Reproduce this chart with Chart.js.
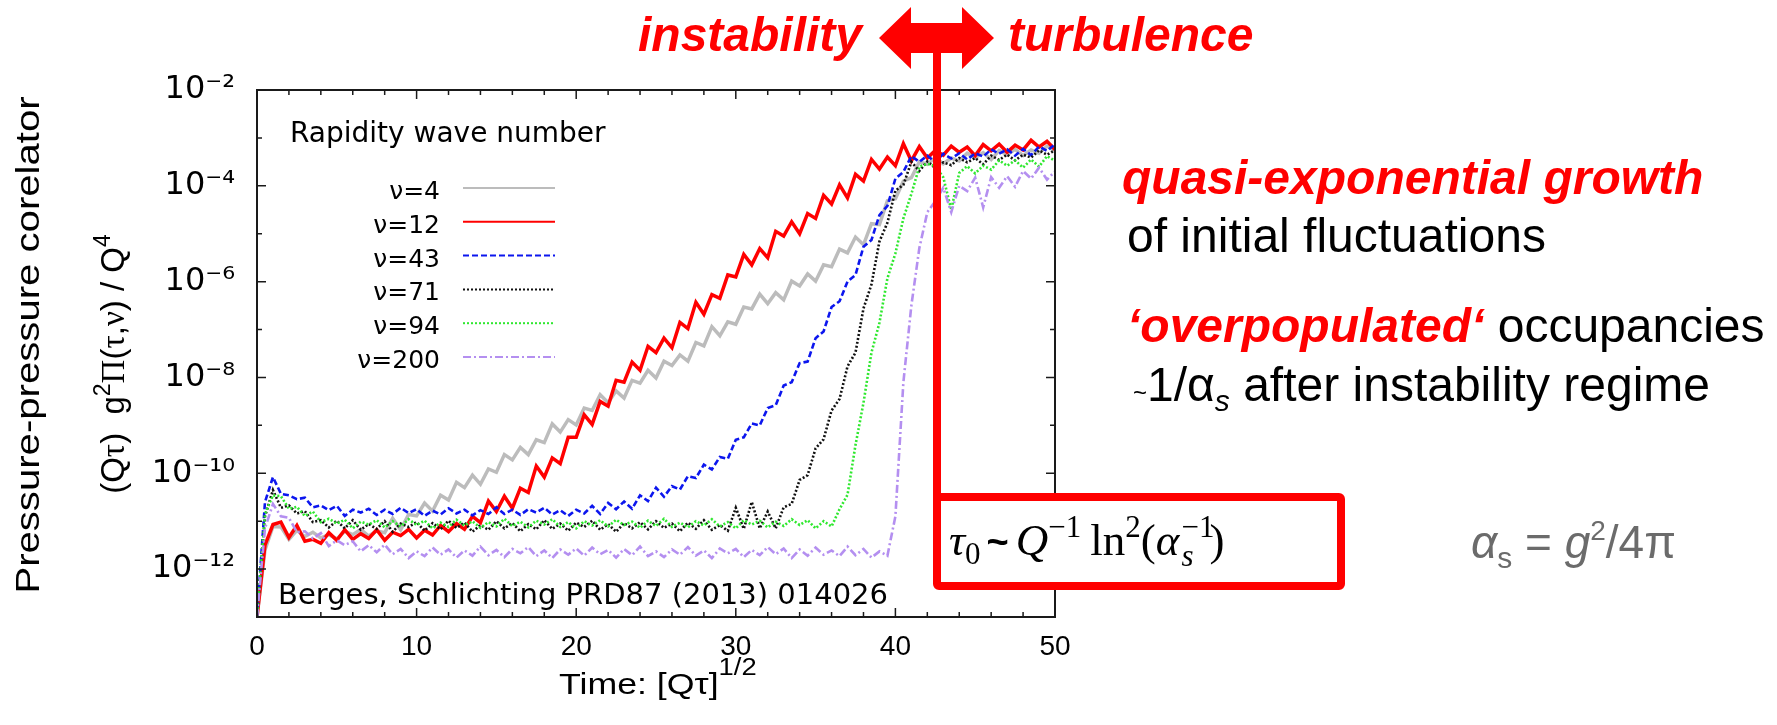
<!DOCTYPE html>
<html>
<head>
<meta charset="utf-8">
<title>Pressure-pressure correlator</title>
<script src="https://cdn.jsdelivr.net/npm/chart.js@4.4.1/dist/chart.umd.min.js"></script>
<style>
  html, body { margin:0; padding:0; background:#fff; }
  #stage { position:relative; width:1777px; height:725px; overflow:hidden; background:#fff; }
  #chart { position:absolute; left:0; top:0; }
  #shapes { position:absolute; left:0; top:0; }
  .txt { position:absolute; white-space:nowrap; line-height:1; font-family:"Liberation Sans", Arial, sans-serif; color:#000; }
  .red { color:#ff0000; font-weight:bold; font-style:italic; }
  .rot { transform-origin:center center; }
  .up { line-height:0; }
  .g { font-family:"Liberation Serif", "DejaVu Serif", serif; }
  .stk { display:inline-block; position:relative; width:30px; height:0; }
  .stk .u { position:absolute; left:2px; bottom:13px; font-size:31px; line-height:1; }
  .stk .d { position:absolute; left:2px; bottom:-16px; font-size:31px; line-height:1; }
</style>
</head>
<body>
<div id="stage">
  <canvas id="chart" width="1777" height="725"></canvas>
  <svg id="shapes" width="1777" height="725" xmlns="http://www.w3.org/2000/svg">
    <rect x="933" y="30" width="8" height="470" fill="#ff0000"/>
    <polygon points="879,38 911,7 911,23 962,23 962,7 994,38 962,69 962,53 911,53 911,69" fill="#ff0000"/>
    <rect x="937" y="497" width="404" height="89" rx="2" fill="#ffffff" stroke="#ff0000" stroke-width="8"/>
  </svg>

  <div class="txt red" style="left:638px; top:11px; font-size:48px;">instability</div>
  <div class="txt red" style="left:1008px; top:11px; font-size:48px;">turbulence</div>

  <div class="txt" style="left:1122px; top:154px; font-size:48px;"><span class="red">quasi-exponential growth</span></div>
  <div class="txt" style="left:1127px; top:212px; font-size:48px;">of initial fluctuations</div>
  <div class="txt" style="left:1127px; top:302px; font-size:48px;"><span class="red">‘overpopulated‘</span> occupancies</div>
  <div class="txt" style="left:1133px; top:361px; font-size:48px;"><span style="font-size:24px;">~</span>1/α<span class="up" style="font-size:30px; font-style:italic; vertical-align:-10px;">s</span> after instability regime</div>

  <div class="txt" style="left:949px; top:518px; font-size:45px; font-family:'Liberation Serif','DejaVu Serif',serif;"><i>τ</i><span class="up" style="font-size:31px; vertical-align:-9px;">0</span><b style="font-family:'Liberation Sans',Arial,sans-serif; font-size:38px; margin:0 7px 0 6px;">~</b><i>Q</i><span class="up" style="font-size:31px; vertical-align:18px;">−1</span><span style="margin-left:9px;">ln</span><span class="up" style="font-size:31px; vertical-align:18px;">2</span>(<i>α</i><span class="stk"><span class="u">−1</span><span class="d"><i>s</i></span></span>)</div>

  <div class="txt" style="left:1471px; top:519px; font-size:46px; color:#6b6b6b;"><i>α</i><span class="up" style="font-size:30px; vertical-align:-10px;">s</span> = <i>g</i><span class="up" style="font-size:28px; vertical-align:18px;">2</span>/4π</div>

  <div class="txt" style="left:559px; top:667px; font-size:30px; transform-origin:left center; transform:scaleX(1.19);">Time: [Qτ]<span class="up" style="font-size:23px; vertical-align:19px;">1/2</span></div>

  <div class="txt rot" style="left:27px; top:345px; font-size:34px; transform:translate(-50%,-50%) rotate(-90deg) scaleX(1.18);">Pressure-pressure corelator</div>
  <div class="txt rot" style="left:113px; top:364px; font-size:33px; transform:translate(-50%,-50%) rotate(-90deg);">(Q<span class="g">τ</span>)&nbsp;&nbsp;g<span class="up" style="font-size:23px; vertical-align:14px;">2</span><span class="g">Π</span>(<span class="g">τ</span>,<span class="g">ν</span>) / Q<span class="up" style="font-size:23px; vertical-align:14px;">4</span></div>

  <div class="txt" style="left:290px; top:119px; font-size:28px; font-family:'DejaVu Sans',sans-serif;">Rapidity wave number</div>
  <div class="txt" style="left:278px; top:580px; font-size:29px; font-family:'DejaVu Sans',sans-serif;">Berges, Schlichting PRD87 (2013) 014026</div>
</div>

<script>
// ---------------- data ----------------
const times = [0,0.5,1,1.5,2,2.5,3,3.5,4,4.5,5,5.5,6,6.5,7,7.5,8,8.5,9,9.5,10,10.5,11,11.5,12,12.5,13,13.5,14,14.5,15,15.5,16,16.5,17,17.5,18,18.5,19,19.5,20,20.5,21,21.5,22,22.5,23,23.5,24,24.5,25,25.5,26,26.5,27,27.5,28,28.5,29,29.5,30,30.5,31,31.5,32,32.5,33,33.5,34,34.5,35,35.5,36,36.5,37,37.5,38,38.5,39,39.5,40,40.5,41,41.5,42,42.5,43,43.5,44,44.5,45,45.5,46,46.5,47,47.5,48,48.5,49,49.5,50];

// log10 of (Q tau) g^2 Pi(tau,nu) / Q^4, one value per entry of `times`
const log10Nu4 = [-13.0,-11.6,-11.11,-11.12,-11.38,-11.19,-11.32,-11.23,-11.35,-11.28,
  -11.37,-11.21,-11.28,-11.17,-11.31,-11.2,-11.24,-10.94,-11.18,-10.86,
  -10.89,-10.62,-10.79,-10.46,-10.56,-10.19,-10.3,-10.04,-10.23,-9.91,
  -9.98,-9.61,-9.72,-9.46,-9.61,-9.3,-9.36,-8.97,-9.14,-8.88,
  -8.99,-8.64,-8.69,-8.36,-8.53,-8.28,-8.43,-8.06,-8.12,-7.85,
  -8.01,-7.66,-7.75,-7.53,-7.66,-7.27,-7.34,-6.94,-7.13,-6.84,
  -6.89,-6.53,-6.57,-6.26,-6.46,-6.23,-6.38,-5.99,-6.09,-5.84,
  -5.99,-5.65,-5.69,-5.32,-5.4,-5.07,-5.23,-4.79,-4.81,-4.31,
  -4.27,-3.9,-3.83,-3.5,-3.55,-3.41,-3.54,-3.42,-3.48,-3.32,
  -3.41,-3.31,-3.45,-3.26,-3.35,-3.24,-3.37,-3.25,-3.32,-3.17,
  -3.27];

const log10Nu12 = [-13.0,-11.5,-11.07,-11.02,-11.34,-11.09,-11.42,-11.38,-11.46,-11.24,
  -11.4,-11.18,-11.38,-11.26,-11.36,-11.18,-11.4,-11.23,-11.3,-11.17,
  -11.35,-11.19,-11.29,-11.09,-11.22,-11.05,-11.17,-10.9,-11.03,-10.58,
  -10.8,-10.48,-10.73,-10.31,-10.4,-9.85,-10.08,-9.68,-9.8,-9.25,
  -9.25,-8.78,-8.98,-8.5,-8.6,-8.06,-8.1,-7.68,-7.85,-7.35,
  -7.48,-7.18,-7.38,-6.85,-6.98,-6.43,-6.68,-6.27,-6.35,-5.86,
  -5.9,-5.43,-5.65,-5.31,-5.5,-4.95,-5.05,-4.75,-5.0,-4.58,
  -4.68,-4.2,-4.38,-3.98,-4.25,-3.76,-3.9,-3.45,-3.65,-3.4,
  -3.58,-3.12,-3.48,-3.18,-3.42,-3.26,-3.36,-3.17,-3.3,-3.19,
  -3.37,-3.14,-3.27,-3.13,-3.3,-3.15,-3.25,-3.05,-3.19,-3.07,
  -3.24];

const log10Nu43 = [-13.0,-10.6,-10.08,-10.43,-10.46,-10.54,-10.51,-10.71,-10.67,-10.77,
  -10.68,-10.89,-10.76,-10.82,-10.74,-10.87,-10.76,-10.85,-10.72,-10.83,
  -10.75,-10.89,-10.78,-10.86,-10.73,-10.84,-10.76,-10.88,-10.77,-10.85,
  -10.71,-10.85,-10.76,-10.87,-10.75,-10.82,-10.72,-10.86,-10.77,-10.89,
  -10.76,-10.84,-10.68,-10.85,-10.62,-10.75,-10.59,-10.74,-10.46,-10.58,
  -10.3,-10.49,-10.27,-10.34,-10.06,-10.1,-9.82,-9.92,-9.66,-9.7,
  -9.3,-9.25,-8.96,-9.0,-8.64,-8.58,-8.17,-8.1,-7.7,-7.67,
  -7.18,-7.04,-6.53,-6.41,-6.0,-5.86,-5.27,-5.13,-4.61,-4.42,
  -3.85,-3.71,-3.38,-3.5,-3.37,-3.51,-3.33,-3.43,-3.32,-3.45,
  -3.32,-3.39,-3.24,-3.33,-3.24,-3.37,-3.23,-3.36,-3.18,-3.27,
  -3.13];

const log10Nu71 = [-13.0,-10.9,-10.35,-10.72,-10.67,-10.84,-10.79,-11.02,-10.98,-11.13,
  -10.99,-11.15,-10.98,-11.18,-11.06,-11.16,-11.0,-11.22,-11.05,-11.12,
  -11.02,-11.2,-11.04,-11.17,-10.99,-11.14,-11.03,-11.22,-11.08,-11.18,
  -11.0,-11.15,-11.04,-11.21,-11.06,-11.17,-10.98,-11.16,-11.05,-11.2,
  -11.03,-11.12,-10.99,-11.18,-11.06,-11.22,-11.04,-11.15,-11.02,-11.17,
  -11.0,-11.14,-11.05,-11.21,-11.03,-11.16,-10.98,-11.18,-11.08,-11.2,
  -10.72,-11.16,-10.6,-11.15,-10.8,-11.15,-10.71,-10.64,-10.14,-10.04,
  -9.48,-9.29,-8.69,-8.45,-7.77,-7.48,-6.56,-6.06,-5.16,-4.77,
  -4.1,-3.98,-3.5,-3.69,-3.49,-3.63,-3.51,-3.57,-3.42,-3.51,
  -3.42,-3.55,-3.37,-3.46,-3.35,-3.47,-3.35,-3.41,-3.26,-3.35,
  -3.26];

const log10Nu94 = [-13.0,-10.85,-10.46,-10.48,-10.74,-10.7,-10.89,-10.8,-11.02,-10.95,
  -11.05,-10.97,-11.15,-11.01,-11.07,-10.98,-11.13,-11.0,-11.11,-10.96,
  -11.08,-10.99,-11.15,-11.03,-11.12,-10.97,-11.09,-11.0,-11.14,-11.02,
  -11.11,-10.95,-11.1,-11.01,-11.13,-10.99,-11.07,-10.96,-11.12,-11.02,
  -11.15,-11.0,-11.09,-10.98,-11.11,-10.97,-11.08,-11.01,-11.14,-10.99,
  -11.1,-10.95,-11.12,-11.03,-11.13,-11.0,-11.09,-10.96,-11.11,-11.02,
  -11.15,-10.98,-11.07,-10.99,-11.13,-11.01,-11.1,-10.96,-11.08,-10.98,
  -11.15,-11.0,-11.11,-10.75,-10.45,-9.41,-8.53,-7.48,-6.86,-5.93,
  -5.41,-4.68,-4.17,-3.6,-3.54,-3.59,-3.82,-4.5,-3.73,-3.59,
  -3.74,-3.58,-3.66,-3.47,-3.58,-3.47,-3.62,-3.45,-3.6,-3.38,
  -3.48];

const log10Nu200 = [-13.0,-11.15,-10.64,-10.9,-10.93,-11.23,-11.21,-11.36,-11.25,-11.52,
  -11.4,-11.5,-11.42,-11.63,-11.5,-11.65,-11.49,-11.69,-11.58,-11.77,
  -11.63,-11.73,-11.55,-11.7,-11.59,-11.76,-11.61,-11.72,-11.53,-11.71,
  -11.6,-11.75,-11.58,-11.67,-11.54,-11.73,-11.61,-11.77,-11.59,-11.7,
  -11.57,-11.72,-11.55,-11.69,-11.6,-11.76,-11.58,-11.71,-11.53,-11.73,
  -11.63,-11.75,-11.59,-11.7,-11.54,-11.72,-11.61,-11.77,-11.57,-11.67,
  -11.58,-11.75,-11.6,-11.71,-11.54,-11.69,-11.57,-11.77,-11.59,-11.72,
  -11.55,-11.7,-11.61,-11.73,-11.53,-11.71,-11.58,-11.76,-11.63,-11.72,
  -10.9,-8.1,-6.5,-5.3,-4.55,-4.32,-4.04,-4.55,-4.0,-4.11,
  -3.83,-4.45,-3.82,-4.04,-3.8,-4.02,-3.69,-3.85,-3.62,-3.87,
  -3.7];

const seriesLabels = ['ν=4', 'ν=12', 'ν=43', 'ν=71', 'ν=94', 'ν=200'];
const seriesLog10 = [log10Nu4, log10Nu12, log10Nu43, log10Nu71, log10Nu94, log10Nu200];

const xTickValues = [0, 10, 20, 30, 40, 50];
const xTickLabels = ['0', '10', '20', '30', '40', '50'];
const yTickExponents = [-13, -12, -11, -10, -9, -8, -7, -6, -5, -4, -3, -2];
const yLabelExponents = [-12, -10, -8, -6, -4, -2];
const yTickLabels = ['10⁻¹²', '10⁻¹⁰', '10⁻⁸', '10⁻⁶', '10⁻⁴', '10⁻²'];

// ---------------- styles ----------------
const seriesColors = ['#bcbcbc', '#ff0000', '#0c16ee', '#111111', '#2fe82f', '#b48ff0'];
const seriesDash = [[], [], [6, 3], [2, 2], [2, 2], [8, 3, 2, 3]];
const seriesWidth = [3.5, 3.5, 2.6, 2.6, 2.6, 2.6];
const seriesOrder = [6, 5, 4, 3, 2, 1];

const datasets = seriesLabels.map((label, k) => ({
  label,
  data: times.map((t, i) => ({ x: t, y: Math.pow(10, seriesLog10[k][i]) })),
  borderColor: seriesColors[k],
  backgroundColor: seriesColors[k],
  borderDash: seriesDash[k],
  borderWidth: seriesWidth[k],
  order: seriesOrder[k],
  pointRadius: 0,
  tension: 0,
  fill: false
}));

// frame with inward ticks (gnuplot style) drawn through the chart's scales
const framePlugin = {
  id: 'gnuFrame',
  afterDatasetsDraw(chart) {
    const { ctx, chartArea: a, scales } = chart;
    const xs = scales.x, ys = scales.y;
    ctx.save();
    ctx.setLineDash([]);
    ctx.strokeStyle = '#1a1a1a';
    ctx.lineWidth = 2;
    ctx.strokeRect(a.left, a.top, a.right - a.left, a.bottom - a.top);
    ctx.lineWidth = 1.5;
    ctx.beginPath();
    for (let v = 0; v <= 50; v += 2) {
      const px = xs.getPixelForValue(v);
      const len = (v % 10 === 0) ? 9 : 5;
      ctx.moveTo(px, a.bottom); ctx.lineTo(px, a.bottom - len);
      ctx.moveTo(px, a.top); ctx.lineTo(px, a.top + len);
    }
    yTickExponents.forEach(e => {
      const py = ys.getPixelForValue(Math.pow(10, e));
      const len = (e % 2 === 0) ? 9 : 5;
      ctx.moveTo(a.left, py); ctx.lineTo(a.left + len, py);
      ctx.moveTo(a.right, py); ctx.lineTo(a.right - len, py);
    });
    ctx.stroke();
    ctx.restore();
  }
};

// gnuplot-like key: right-aligned text followed by a line sample
const keyPlugin = {
  id: 'gnuKey',
  afterDatasetsDraw(chart) {
    const ctx = chart.ctx;
    ctx.save();
    ctx.font = '25px "DejaVu Sans", sans-serif';
    ctx.textAlign = 'right';
    ctx.textBaseline = 'alphabetic';
    chart.data.datasets.forEach((ds, i) => {
      const yb = 199 + 33.8 * i;
      ctx.fillStyle = '#000';
      ctx.fillText(ds.label, 440, yb);
      ctx.beginPath();
      ctx.setLineDash(ds.borderDash || []);
      ctx.strokeStyle = ds.borderColor;
      ctx.lineWidth = 2;
      ctx.moveTo(463, yb - 11);
      ctx.lineTo(555, yb - 11);
      ctx.stroke();
    });
    ctx.restore();
  }
};

new Chart(document.getElementById('chart').getContext('2d'), {
  type: 'line',
  data: { datasets },
  options: {
    responsive: false,
    animation: false,
    devicePixelRatio: 1,
    events: [],
    layout: { padding: { left: 0, right: 722, top: 90, bottom: 0 } },
    plugins: {
      legend: { display: false },
      tooltip: { enabled: false },
      title: { display: false }
    },
    scales: {
      x: {
        type: 'linear',
        min: 0, max: 50,
        grid: { display: false, drawTicks: false },
        border: { display: false },
        afterBuildTicks: s => { s.ticks = xTickValues.map(v => ({ value: v })); },
        afterFit: s => { s.height = 108; },
        ticks: {
          autoSkip: false, maxRotation: 0, minRotation: 0,
          padding: 13,
          color: '#000',
          font: { family: '"Liberation Sans", Arial, sans-serif', size: 28 },
          callback: v => { const k = xTickValues.indexOf(v); return k >= 0 ? xTickLabels[k] : ''; }
        }
      },
      y: {
        type: 'logarithmic',
        min: 1e-13, max: 1e-2,
        grid: { display: false, drawTicks: false },
        border: { display: false },
        afterBuildTicks: s => { s.ticks = yTickExponents.map(e => ({ value: Math.pow(10, e) })); },
        afterFit: s => { s.width = 257; },
        ticks: {
          autoSkip: false,
          padding: 22,
          color: '#000',
          font: { family: '"DejaVu Sans", sans-serif', size: 32 },
          callback: v => {
            const e = Math.round(Math.log10(v));
            const k = yLabelExponents.indexOf(e);
            return k >= 0 ? yTickLabels[k] : '';
          }
        }
      }
    }
  },
  plugins: [framePlugin, keyPlugin]
});
</script>
</body>
</html>
